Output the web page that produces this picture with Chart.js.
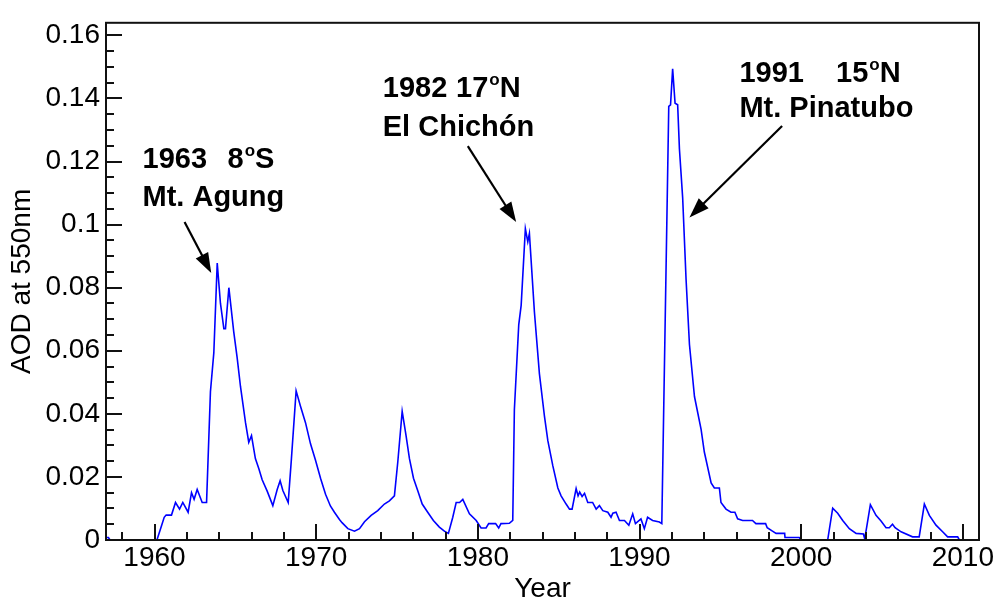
<!DOCTYPE html>
<html><head><meta charset="utf-8">
<script src="https://cdn.jsdelivr.net/npm/chart.js@4/dist/chart.umd.min.js"></script>
<style>html,body{margin:0;padding:0;background:#fff;}#wrap{width:996px;height:603px;}</style>
</head><body><div id="wrap"><canvas id="c" width="996" height="603"></canvas></div>
<script>
// ---- data ----
const years = [
 1957.0,1957.15,1957.25,1960.15,1960.4,1960.6,1960.72,1961.05,1961.3,1961.55,1961.75,1962.08,1962.29,1962.45,1962.64,1962.95,1963.22,
 1963.46,1963.67,1963.88,1964.08,1964.29,1964.39,1964.6,1964.9,1965.11,1965.32,1965.63,1965.83,1966.0,1966.24,1966.45,1966.66,1966.97,1967.32,1967.59,1967.77,1967.94,1968.27,
 1968.47,1968.76,1969.03,1969.34,1969.65,1969.96,1970.27,1970.58,1970.88,1971.13,1971.44,1971.6,1971.96,1972.37,1972.68,1972.99,1973.4,1973.81,1974.22,1974.53,1974.84,
 1975.05,1975.32,1975.56,1975.77,1976.02,1976.29,1976.56,1976.9,1977.25,1977.62,1977.93,1978.18,1978.45,1978.66,1978.87,1979.07,1979.48,1979.9,1980.2,1980.51,1980.67,1981.1,1981.29,1981.43,1981.95,1982.16,
 1982.26,1982.53,1982.68,1982.94,1983.09,1983.19,1983.5,1983.81,1984.12,1984.33,1984.64,1984.95,1985.15,1985.46,1985.67,1985.83,
 1986.08,1986.2,1986.3,1986.45,1986.6,1986.8,1987.1,1987.32,1987.52,1987.73,1988.04,1988.24,1988.35,1988.55,1988.76,1989.07,1989.34,1989.58,1989.75,1990.09,1990.3,1990.5,1990.81,1991.23,1991.38,
 1991.81,1991.92,1992.05,1992.2,1992.36,1992.47,1992.67,1992.88,1993.09,1993.4,1993.81,1994.01,1994.43,1994.63,1994.94,1995.04,1995.35,1995.66,1995.9,1996.07,1996.38,1996.99,1997.2,1997.8,1997.9,1998.2,1998.45,1998.98,1999.0,1999.88,2000.0,
 2001.64,2001.95,2002.26,2002.57,2002.98,2003.4,2003.85,2003.93,2004.05,2004.28,2004.63,2004.94,2005.25,2005.45,2005.65,2005.81,2006.18,2006.89,2007.3,2007.62,2007.93,2008.34,2008.75,2009.06,2009.68,2009.79,2011.0
];
const aod = [
 0.0008,0.0008,0,0,0.004,0.0072,0.0079,0.0079,0.0119,0.0098,0.0119,0.0088,0.015,0.0129,0.016,0.0119,0.0119,
 0.047,0.0594,0.0878,0.075,0.067,0.067,0.080,0.0661,0.0579,0.0486,0.0372,0.031,0.0331,0.0258,0.0227,0.0191,0.0155,0.0109,0.016,0.0188,0.0157,0.0119,
 0.0258,0.0473,0.0424,0.0372,0.0305,0.0253,0.0196,0.0145,0.0108,0.0088,0.0065,0.0055,0.0036,0.0028,0.0036,0.0058,0.0078,0.0093,0.0114,0.0124,0.014,
 0.0248,0.0408,0.0331,0.0258,0.0196,0.0155,0.0114,0.0088,0.0062,0.0041,0.0028,0.0021,0.0072,0.0119,0.0119,0.0129,0.0083,0.0062,0.0038,0.0038,0.0052,0.0052,0.0038,0.0052,0.0053,0.0062,
 0.0413,0.0682,0.0744,0.0987,0.0946,0.0972,0.0723,0.0527,0.0393,0.0315,0.0235,0.0165,0.014,0.0114,0.0098,0.0098,
 0.0163,0.014,0.0152,0.0138,0.0148,0.0119,0.0119,0.0098,0.0109,0.0093,0.0088,0.0072,0.0085,0.0088,0.0062,0.0062,0.0047,0.0083,0.0052,0.0067,0.0036,0.0072,0.0062,0.0057,0.0052,
 0.1375,0.138,0.1494,0.1385,0.138,0.124,0.1085,0.0827,0.062,0.0455,0.0351,0.0279,0.0181,0.0165,0.0165,0.0119,0.0098,0.0088,0.0088,0.0067,0.0062,0.0062,0.0052,0.0052,0.0039,0.0029,0.0021,0.0021,0.0008,0.0008,0,
 0,0.0101,0.0085,0.0062,0.0036,0.0021,0.0019,0.0004,0.004,0.0112,0.0078,0.006,0.0039,0.0039,0.005,0.0039,0.0026,0.001,0.001,0.0114,0.0078,0.0047,0.0026,0.001,0.001,0,0
];
const xTickValues = [1960, 1970, 1980, 1990, 2000, 2010];
const xTickLabels = ['1960', '1970', '1980', '1990', '2000', '2010'];
const yTickValues = [0, 0.02, 0.04, 0.06, 0.08, 0.1, 0.12, 0.14, 0.16];
const yTickLabels = ['0', '0.02', '0.04', '0.06', '0.08', '0.1', '0.12', '0.14', '0.16'];
const xTitle = 'Year';
const yTitle = 'AOD at 550nm';

// annotations (text anchored in data coordinates: left / baseline)
const labelTexts = [
  {x: 1959.26, y: 0.1178, text: '1963'},
  {x: 1964.52, y: 0.1178, pre: '8', post: 'S'},
  {x: 1959.26, y: 0.1060, text: 'Mt. Agung'},
  {x: 1974.12, y: 0.1406, text: '1982'},
  {x: 1978.65, y: 0.1406, pre: '17', post: 'N'},
  {x: 1974.12, y: 0.1282, text: 'El Chichón'},
  {x: 1996.18, y: 0.1452, text: '1991'},
  {x: 2002.16, y: 0.1452, pre: '15', post: 'N'},
  {x: 1996.18, y: 0.1342, text: 'Mt. Pinatubo'}
];
const arrows = [
  {x0: 1961.86, y0: 0.1008, x1: 1963.51, y1: 0.0847},
  {x0: 1979.38, y0: 0.1249, x1: 1982.37, y1: 0.1008},
  {x0: 1998.82, y0: 0.1313, x1: 1993.09, y1: 0.1023}
];

const FONT = "'Liberation Sans', Arial, Helvetica, sans-serif";

const decorPlugin = {
  id: 'decor',
  afterDatasetsDraw(chart) {
    const {ctx, chartArea: a, scales: {x, y}} = chart;
    ctx.save();
    ctx.strokeStyle = '#111';
    ctx.lineWidth = 2;
    // frame
    ctx.strokeRect(a.left, a.top, a.right - a.left, a.bottom - a.top);
    // x ticks (inward)
    ctx.beginPath();
    for (let v = 1958; v <= 2011; v += 2) {
      const px = Math.round(x.getPixelForValue(v));
      const len = xTickValues.includes(v) ? 16 : 8;
      ctx.moveTo(px, a.bottom); ctx.lineTo(px, a.bottom - len);
    }
    // y ticks (inward)
    for (let k = 0; k * 0.005 <= y.max + 1e-9; k++) {
      const v = k * 0.005;
      const py = Math.round(y.getPixelForValue(v));
      const len = (k % 4 === 0) ? 16 : 8;
      ctx.moveTo(a.left, py); ctx.lineTo(a.left + len, py);
    }
    ctx.stroke();

    // arrows
    ctx.fillStyle = '#000';
    ctx.strokeStyle = '#000';
    ctx.lineWidth = 2.2;
    arrows.forEach(ar => {
      const x0 = x.getPixelForValue(ar.x0), y0 = y.getPixelForValue(ar.y0);
      const x1 = x.getPixelForValue(ar.x1), y1 = y.getPixelForValue(ar.y1);
      const ang = Math.atan2(y1 - y0, x1 - x0);
      const hl = 20, hw = 7;
      const bx = x1 - hl * Math.cos(ang), by = y1 - hl * Math.sin(ang);
      ctx.beginPath(); ctx.moveTo(x0, y0); ctx.lineTo(bx + 3 * Math.cos(ang), by + 3 * Math.sin(ang)); ctx.stroke();
      ctx.beginPath();
      ctx.moveTo(x1, y1);
      ctx.lineTo(bx + hw * Math.sin(ang), by - hw * Math.cos(ang));
      ctx.lineTo(bx - hw * Math.sin(ang), by + hw * Math.cos(ang));
      ctx.closePath(); ctx.fill();
    });

    // texts
    ctx.textBaseline = 'alphabetic';
    ctx.textAlign = 'left';
    labelTexts.forEach(t => {
      const px = x.getPixelForValue(t.x), py = y.getPixelForValue(t.y);
      ctx.font = 'bold 29px ' + FONT;
      if (t.text) { ctx.fillText(t.text, px, py); return; }
      ctx.fillText(t.pre, px, py);
      let cx = px + ctx.measureText(t.pre).width + 1;
      ctx.font = 'bold 17px ' + FONT;
      ctx.fillText('o', cx, py - 12);
      cx += ctx.measureText('o').width;
      ctx.font = 'bold 29px ' + FONT;
      ctx.fillText(t.post, cx, py);
    });
    ctx.restore();
  }
};

new Chart(document.getElementById('c'), {
  type: 'line',
  data: {
    datasets: [{
      data: years.map((yr, i) => ({x: yr, y: aod[i]})),
      borderColor: '#0000ff',
      borderWidth: 1.6,
      pointRadius: 0,
      tension: 0,
      fill: false
    }]
  },
  options: {
    responsive: false,
    devicePixelRatio: 1,
    animation: false,
    layout: {padding: {top: 11, right: 17, left: 0, bottom: 0}},
    plugins: {legend: {display: false}, tooltip: {enabled: false}},
    scales: {
      x: {
        type: 'linear', min: 1957, max: 2011,
        afterBuildTicks: s => { s.ticks = xTickValues.map(v => ({value: v})); },
        afterFit: s => { s.height = 63; },
        grid: {display: false, drawTicks: false},
        border: {display: false},
        ticks: {
          color: '#000', padding: 1, maxRotation: 0, autoSkip: false,
          font: {family: FONT, size: 28},
          callback: (v, i) => xTickLabels[i]
        },
        title: {display: true, text: xTitle, color: '#000', font: {family: FONT, size: 28, lineHeight: 1}, padding: {top: 0, bottom: 0}}
      },
      y: {
        type: 'linear', min: 0, max: 0.164,
        afterBuildTicks: s => { s.ticks = yTickValues.map(v => ({value: v})); },
        afterFit: s => { s.width = 106; },
        grid: {display: false, drawTicks: false},
        border: {display: false},
        ticks: {
          color: '#000', padding: 6,
          font: {family: FONT, size: 28},
          callback: (v, i) => yTickLabels[i]
        },
        title: {display: true, text: yTitle, color: '#000', font: {family: FONT, size: 28, lineHeight: 1.2}, padding: {top: 5, bottom: 0}}
      }
    }
  },
  plugins: [decorPlugin]
});
</script>
</body></html>
